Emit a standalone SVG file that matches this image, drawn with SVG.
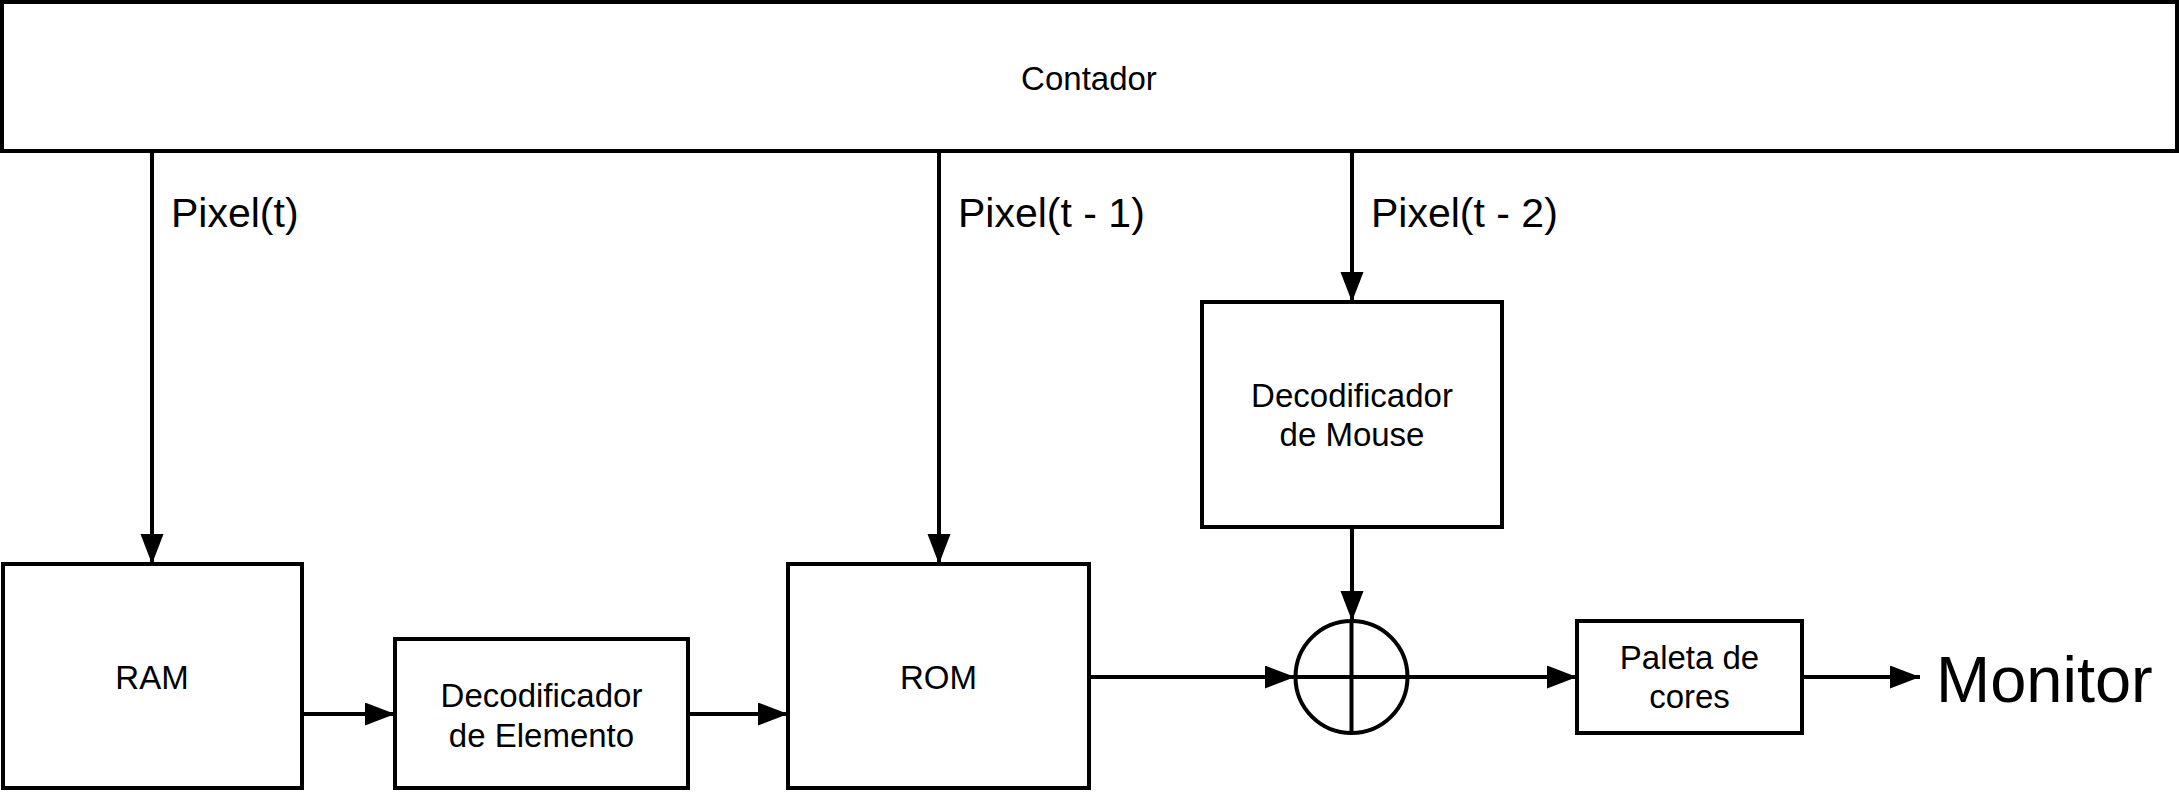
<svg xmlns="http://www.w3.org/2000/svg" width="2179" height="792" viewBox="0 0 2179 792">
  <style>
    .box { fill: #ffffff; stroke: #000000; stroke-width: 4; }
    .ln { fill: none; stroke: #000000; stroke-width: 4; }
    .t { font-family: "Liberation Sans", Arial, sans-serif; font-size: 33px; fill: #000000; text-anchor: middle; }
    .lbl { font-family: "Liberation Sans", Arial, sans-serif; font-size: 41px; fill: #000000; }
    .big { font-family: "Liberation Sans", Arial, sans-serif; font-size: 65px; fill: #000000; }
  </style>
  <defs>
    <marker id="arr" markerUnits="userSpaceOnUse" markerWidth="32" markerHeight="26" refX="30" refY="11.5" orient="auto">
      <path d="M0,0 L30,11.5 L0,23 Z" fill="#000000"/>
    </marker>
  </defs>
  <rect width="2179" height="792" fill="#ffffff"/>

  <g id="connectors">
    <line class="ln" x1="152" y1="151" x2="152" y2="564" marker-end="url(#arr)"/>
    <line class="ln" x1="939" y1="151" x2="939" y2="564" marker-end="url(#arr)"/>
    <line class="ln" x1="1352" y1="151" x2="1352" y2="302" marker-end="url(#arr)"/>
    <line class="ln" x1="1352" y1="527" x2="1352" y2="621" marker-end="url(#arr)"/>
    <line class="ln" x1="302" y1="714" x2="395" y2="714" marker-end="url(#arr)"/>
    <line class="ln" x1="688" y1="714" x2="788" y2="714" marker-end="url(#arr)"/>
    <line class="ln" x1="1089" y1="677" x2="1295" y2="677" marker-end="url(#arr)"/>
    <line class="ln" x1="1408" y1="677" x2="1577" y2="677" marker-end="url(#arr)"/>
    <line class="ln" x1="1802" y1="677" x2="1920" y2="677" marker-end="url(#arr)"/>
  </g>

  <g id="labels">
    <text class="lbl" x="171" y="227">Pixel(t)</text>
    <text class="lbl" x="958" y="227">Pixel(t - 1)</text>
    <text class="lbl" x="1371" y="227">Pixel(t - 2)</text>
  </g>

  <g id="contador">
    <rect class="box" x="2" y="2" width="2175" height="149"/>
    <text class="t" x="1089" y="90">Contador</text>
  </g>

  <g id="ram">
    <rect class="box" x="3" y="564" width="299" height="224"/>
    <text class="t" x="152" y="689">RAM</text>
  </g>

  <g id="decodificador-elemento">
    <rect class="box" x="395" y="639" width="293" height="149"/>
    <text class="t" x="541.5" y="707">Decodificador</text>
    <text class="t" x="541.5" y="747">de Elemento</text>
  </g>

  <g id="rom">
    <rect class="box" x="788" y="564" width="301" height="224"/>
    <text class="t" x="938.5" y="689">ROM</text>
  </g>

  <g id="decodificador-mouse">
    <rect class="box" x="1202" y="302" width="300" height="225"/>
    <text class="t" x="1352" y="407">Decodificador</text>
    <text class="t" x="1352" y="446">de Mouse</text>
  </g>

  <g id="somador">
    <circle class="box" cx="1351.5" cy="677" r="56"/>
    <line class="ln" x1="1351.5" y1="621" x2="1351.5" y2="733"/>
    <line class="ln" x1="1295.5" y1="677" x2="1407.5" y2="677"/>
  </g>

  <g id="paleta">
    <rect class="box" x="1577" y="621" width="225" height="112"/>
    <text class="t" x="1689.5" y="669">Paleta de</text>
    <text class="t" x="1689.5" y="708">cores</text>
  </g>

  <g id="monitor">
    <text class="big" x="1936" y="702">Monitor</text>
  </g>
</svg>
